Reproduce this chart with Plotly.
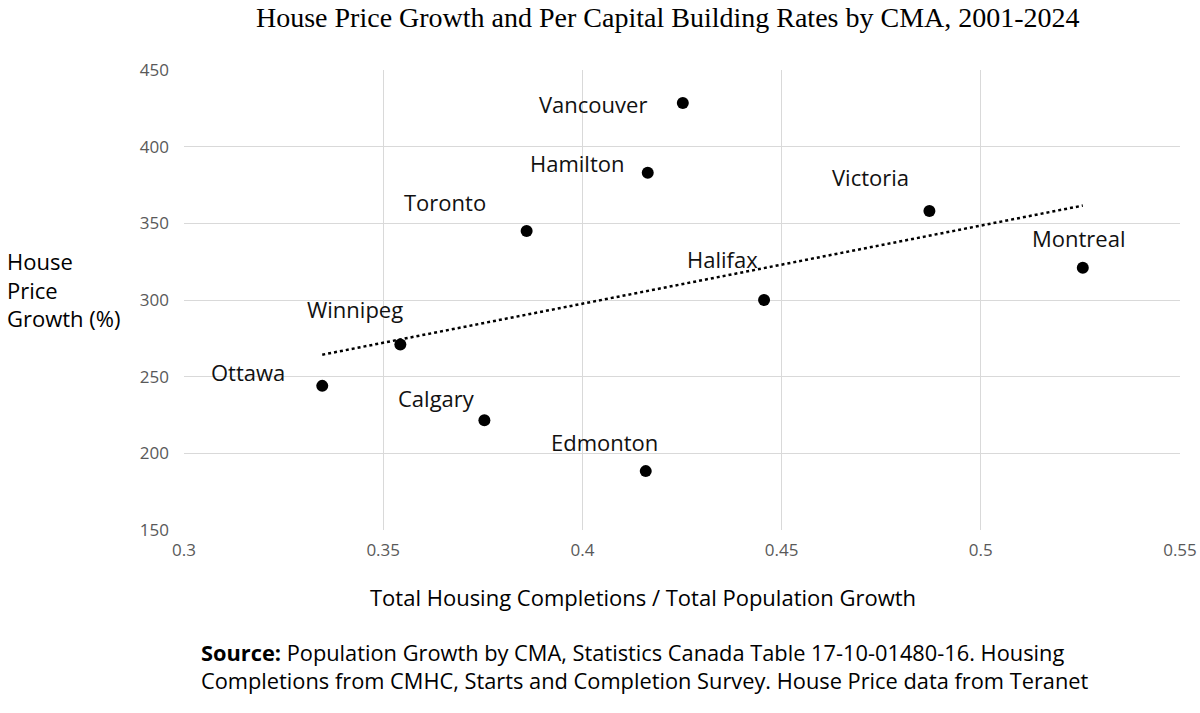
import numpy as np
import plotly.graph_objects as go

cities = ["Vancouver", "Hamilton", "Toronto", "Victoria", "Montreal",
          "Halifax", "Winnipeg", "Ottawa", "Calgary", "Edmonton"]
completions_ratio = [0.4252, 0.4164, 0.3860, 0.4871, 0.5256,
                     0.4456, 0.3543, 0.3347, 0.3754, 0.4159]
price_growth = [428.5, 383.0, 345.0, 358.0, 321.0,
                300.0, 271.0, 244.0, 221.6, 188.4]
x_ticks = [0.3, 0.35, 0.4, 0.45, 0.5, 0.55]
x_tick_text = ["0.3", "0.35", "0.4", "0.45", "0.5", "0.55"]
y_ticks = [150, 200, 250, 300, 350, 400, 450]

# label offsets (pixels) relative to the points
label_dx = [-90, -70, -82, -59, -4, -42, -45, -74, -48, -41]
label_dy = [1, -10, -29, -34, -30, -41, -35, -14, -22, -29]

SANS = "Open Sans"
L, R, T, B = 184, 20, 69.5, 183.3
PW, PH = 1200 - L - R, 713 - T - B

x = np.array(completions_ratio)
y = np.array(price_growth)
slope, intercept = np.polyfit(x, y, 1)
tx = np.array([x.min(), x.max()])
ty = slope * tx + intercept

fig = go.Figure()
fig.add_trace(go.Scatter(x=tx, y=ty, mode="lines",
                         line=dict(color="black", width=2.5, dash="dot"),
                         hoverinfo="skip", showlegend=False))
fig.add_trace(go.Scatter(x=completions_ratio, y=price_growth, mode="markers",
                         marker=dict(color="black", size=12),
                         text=cities, showlegend=False))

for c, xi, yi, dx, dy in zip(cities, completions_ratio, price_growth, label_dx, label_dy):
    fig.add_annotation(x=xi, y=yi, text=c, showarrow=False,
                       xshift=dx, yshift=-dy,
                       font=dict(family=SANS, size=22, color="#111111"))

fig.add_annotation(xref="paper", yref="paper", x=(668 - L) / PW, y=1 + (T - 17) / PH,
                   text="House Price Growth and Per Capital Building Rates by CMA, 2001-2024",
                   showarrow=False, xanchor="center", yanchor="middle",
                   font=dict(family="Liberation Serif", size=28, color="black"))

fig.add_annotation(xref="paper", yref="paper", x=(5 - L) / PW, y=(713 - B - 289) / PH,
                   text="House<br>Price<br>Growth (%)", align="left",
                   showarrow=False, xanchor="left", yanchor="middle",
                   font=dict(family=SANS, size=22, color="black"))

fig.add_annotation(xref="paper", yref="paper", x=(643 - L) / PW, y=-(597 - (713 - B)) / PH,
                   text="Total Housing Completions / Total Population Growth",
                   showarrow=False, xanchor="center", yanchor="middle",
                   font=dict(family=SANS, size=22, color="black"))

fig.add_annotation(xref="paper", yref="paper", x=(199 - L) / PW, y=-(666 - (713 - B)) / PH,
                   text="<b>Source:</b> Population Growth by CMA, Statistics Canada Table 17-10-01480-16. Housing<br>"
                        "Completions from CMHC, Starts and Completion Survey. House Price data from Teranet",
                   align="left", showarrow=False, xanchor="left", yanchor="middle",
                   font=dict(family=SANS, size=21.8, color="black"))

fig.update_xaxes(range=[0.3, 0.55], tickvals=x_ticks, ticktext=x_tick_text,
                 showgrid=True, gridcolor="#d9d9d9", gridwidth=1.3,
                 zeroline=False, showline=False, ticks="", ticklabelstandoff=8,
                 ticklabeloverflow="allow", automargin=False,
                 tickfont=dict(family=SANS, size=17, color="#595959"))
fig.update_yaxes(range=[150, 450], tickvals=y_ticks,
                 showgrid=True, gridcolor="#d9d9d9", gridwidth=1.3,
                 zeroline=False, showline=False, ticks="", ticklabelstandoff=14,
                 automargin=False,
                 tickfont=dict(family=SANS, size=17, color="#595959"))

fig.update_layout(width=1200, height=713,
                  margin=dict(l=L, r=R, t=T, b=B),
                  plot_bgcolor="white", paper_bgcolor="white")

fig.write_html("out.html", config={"displayModeBar": False},
               post_script="document.body.style.margin='0';document.body.style.overflow='hidden';")
